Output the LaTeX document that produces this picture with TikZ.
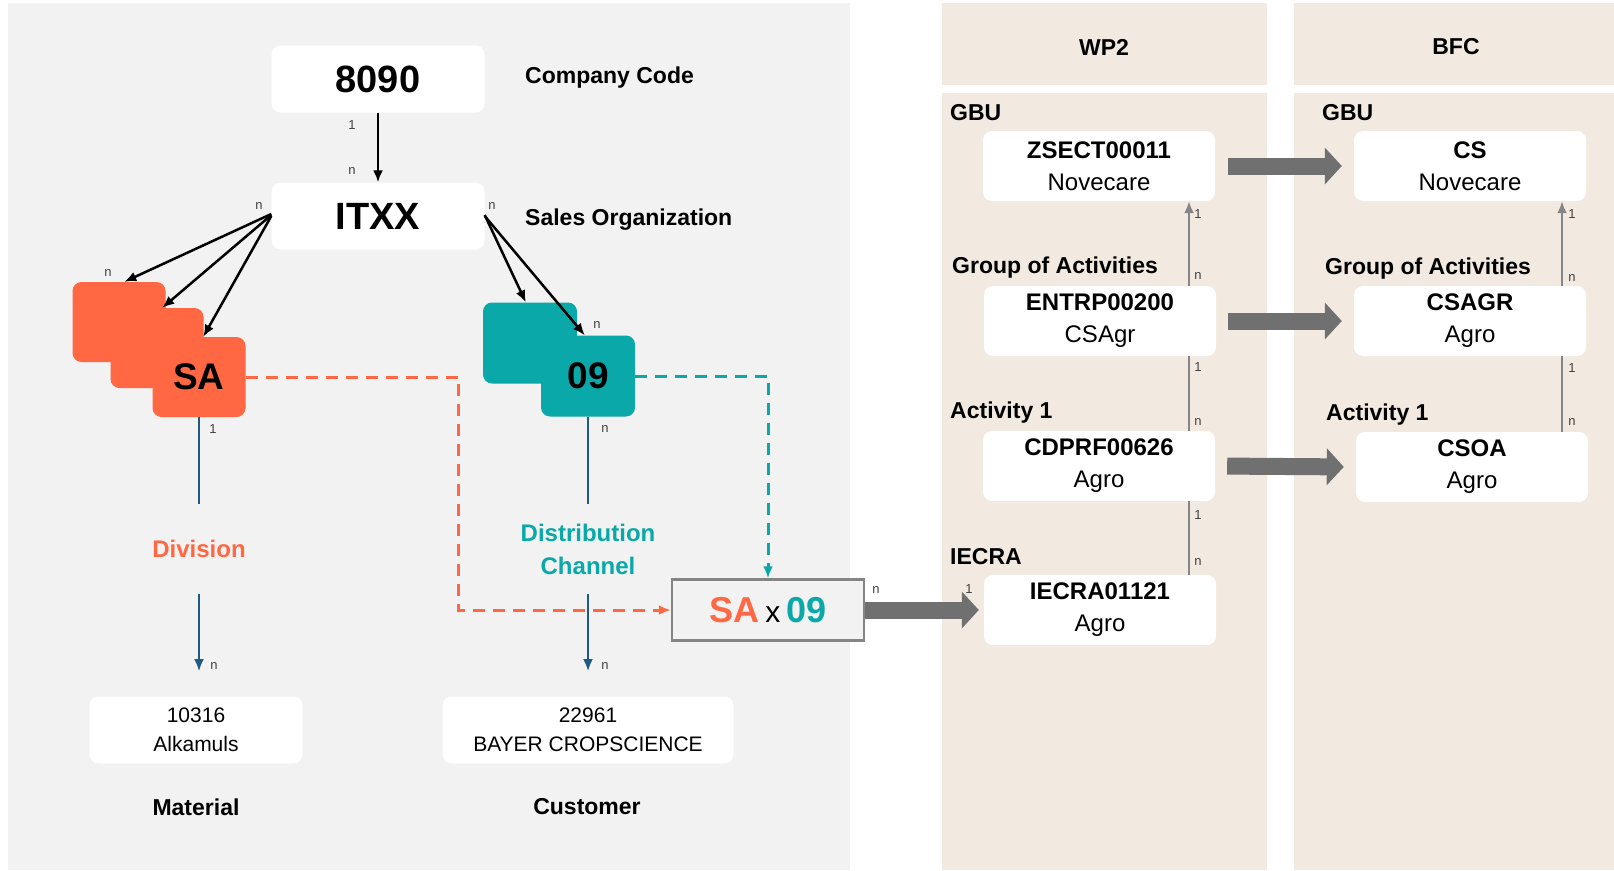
\documentclass[tikz,border=0pt]{standalone}
\usepackage{fontspec}
\setmainfont{Liberation Sans}
\usetikzlibrary{arrows.meta,positioning}

\definecolor{panelgrey}{HTML}{F2F2F2}
\definecolor{beige}{HTML}{F2EAE0}
\definecolor{saorange}{HTML}{FF6842}
\definecolor{dcteal}{HTML}{0AA8A8}
\definecolor{linkblue}{HTML}{1F5A82}
\definecolor{arrowgrey}{HTML}{707070}
\definecolor{linegrey}{HTML}{858585}

\tikzset{
  whitebox/.style={fill=white, rounded corners=9pt, minimum width=213pt, minimum height=67pt, inner sep=0pt, align=center},
  bigtext/.style={font=\fontsize{38}{42}\selectfont\bfseries},
  title/.style={font=\fontsize{23}{27}\selectfont\bfseries, anchor=west, inner sep=0pt},
  card/.style={rounded corners=9pt, minimum width=93pt, minimum height=80pt, inner sep=0pt, font=\fontsize{37}{40}\selectfont\bfseries},
  midlabel/.style={minimum height=90pt, inner sep=0pt, align=center, font=\fontsize{24}{33}\selectfont\bfseries},
  smallbox/.style={fill=white, rounded corners=9pt, minimum height=67pt, inner sep=0pt, align=center, font=\fontsize{21}{29}\selectfont},
  itembox/.style={fill=white, rounded corners=9pt, minimum width=232pt, minimum height=70pt, inner sep=0pt, align=center, font=\fontsize{24}{32}\selectfont},
  tag/.style={font=\fontsize{13}{15}\selectfont, text=black!75, inner sep=0pt},
  bline/.style={draw=linkblue, line width=2.6pt},
  dashline/.style={line width=3pt, dash pattern=on 12pt off 8pt},
  fatarrow/.style={draw=arrowgrey, line width=17pt, -{Triangle[length=17pt,width=36pt]}},
  thinarrow/.style={draw=linegrey, line width=2.5pt}
}

\begin{document}
\begin{tikzpicture}[x=1pt, y=-1pt, >={Latex[length=12pt,width=10pt]}]
    \useasboundingbox (0,0) rectangle (1614,870);

    % the panels
    \fill[panelgrey] (8,3) rectangle (850,870);
    \fill[beige] (942,3) rectangle (1267,85);
    \fill[beige] (942,93) rectangle (1267,870);
    \fill[beige] (1294,3) rectangle (1614,85);
    \fill[beige] (1294,93) rectangle (1614,870);

    % the left side: company code and sales organization
    \node[whitebox, bigtext] (cc) at (378,79) {8090};
    \node[whitebox, bigtext] (so) at (378,216) {ITXX};
    \node[title] (cclbl) at (525,78) {Company Code};
    \node[title] (solbl) at (525,220) {Sales Organization};

    % the stacked cards
    \node[card, fill=saorange] (sa1) at (119,322) {};
    \node[card, fill=saorange] (sa2) at (157,348) {};
    \node[card, fill=saorange] (sa3) at (199,377) {SA};
    \node[card, fill=dcteal, minimum width=94pt, minimum height=81pt] (dc1) at (530,343) {};
    \node[card, fill=dcteal, minimum width=94pt, minimum height=81pt] (dc2) at (588,376) {09};

    % division and distribution channel
    \node[midlabel, text=saorange] (div) at (199,549) {Division};
    \node[midlabel, text=dcteal] (dist) at (588,549) {Distribution\\Channel};

    \node[smallbox, minimum width=213pt] (mat) at (196,730) {10316\\Alkamuls};
    \node[smallbox, minimum width=291pt] (cust) at (588,730) {22961\\BAYER CROPSCIENCE};
    \node[title, anchor=center] (matlbl) at (196,807) {Material};
    \node[title, anchor=center] (custlbl) at (587,807) {Customer};

    % the combination
    \node[draw=linegrey, line width=2.5pt, fill=panelgrey, minimum width=192pt, minimum height=61pt,
          font=\fontsize{36}{40}\selectfont\bfseries] (mix) at (768,610)
          {\textcolor{saorange}{SA}\,{\mdseries\fontsize{30}{36}\selectfont x}\,\textcolor{dcteal}{09}};

    % the right side: WP2 and BFC
    \node[title, anchor=center] (wp2) at (1104,47) {WP2};
    \node[title, anchor=center] (bfc) at (1456,47) {BFC};

    \node[title] (wgbu) at (950,113) {GBU};
    \node[title] (wgoa) at (952,268) {Group of Activities};
    \node[title] (wact) at (950,413) {Activity 1};
    \node[title] (wiec) at (950,557) {IECRA};
    \node[title] (bgbu) at (1322,113) {GBU};
    \node[title] (bgoa) at (1325,269) {Group of Activities};
    \node[title] (bact) at (1326,415) {Activity 1};

    \node[itembox] (zs) at (1099,166) {\textbf{ZSECT00011}\\Novecare};
    \node[itembox] (en) at (1100,321) {\textbf{ENTRP00200}\\CSAgr};
    \node[itembox] (cd) at (1099,466) {\textbf{CDPRF00626}\\Agro};
    \node[itembox] (iec) at (1100,610) {\textbf{IECRA01121}\\Agro};
    \node[itembox] (cs) at (1470,166) {\textbf{CS}\\Novecare};
    \node[itembox] (csagr) at (1470,321) {\textbf{CSAGR}\\Agro};
    \node[itembox] (csoa) at (1472,467) {\textbf{CSOA}\\Agro};

    % the 1 and n marks
    \foreach \x/\y/\t [count=\i] in {352/125/1, 352/171/n, 259/206/n, 108/273/n, 492/206/n, 597/325/n,
        213/429/1, 605/429/n, 214/666/n, 605/666/n, 876/590/n, 969/589/1,
        1198/214/1, 1198/276/n, 1198/367/1, 1198/422/n, 1198/515/1, 1198/562/n,
        1572/214/1, 1572/278/n, 1572/368/1, 1572/422/n}
        \node[tag] (tag\i) at (\x,\y) {\t};

    % draw the arrows
    \draw[->, line width=2.5pt] (cc.south) -- (so.north);
    \draw[->, line width=2.5pt] ([yshift=2pt]so.west) -- ([xshift=52pt]sa1.north west);
    \draw[->, line width=2.5pt] ([yshift=1pt]so.west) -- ([xshift=52pt]sa2.north west);
    \draw[->, line width=2.5pt] (so.west) -- ([xshift=51pt]sa3.north west);
    \draw[->, line width=2.5pt] ([yshift=1pt]so.east) -- ([xshift=43pt]dc1.north west);
    \draw[->, line width=2.5pt] (so.east) -- ([xshift=44pt]dc2.north west);

    \draw[bline] (sa3.south) -- (div.north);
    \draw[bline, ->] (div.south) -- ++(0,77);
    \draw[bline] (dc2.south) -- (dist.north);
    \draw[bline, ->] (dist.south) -- ++(0,77);

    \draw[dashline, saorange, ->] (sa3.east) -- ++(213,0) |- (mix.west);
    \draw[dashline, dcteal, ->] (dc2.east) -| (mix.north);

    \draw[fatarrow, shorten >=5pt] (mix.east) -- (iec.west);
    \draw[fatarrow, shorten <=13pt, shorten >=12pt] (zs.east) -- (cs.west);
    \draw[fatarrow, shorten <=12pt, shorten >=12pt] (en.east) -- (csagr.west);
    \draw[fatarrow, shorten <=12pt, shorten >=12pt] (cd.east) -- (csoa.west);

    \coordinate (wline) at (1189,0);
    \coordinate (bline) at (1562,0);
    \draw[thinarrow, ->] (en.north -| wline) -- (zs.south -| wline);
    \draw[thinarrow] (cd.north -| wline) -- (en.south -| wline);
    \draw[thinarrow] (iec.north -| wline) -- (cd.south -| wline);
    \draw[thinarrow, ->] (csagr.north -| bline) -- (cs.south -| bline);
    \draw[thinarrow] (csoa.north -| bline) -- (csagr.south -| bline);

\end{tikzpicture}
\end{document}
